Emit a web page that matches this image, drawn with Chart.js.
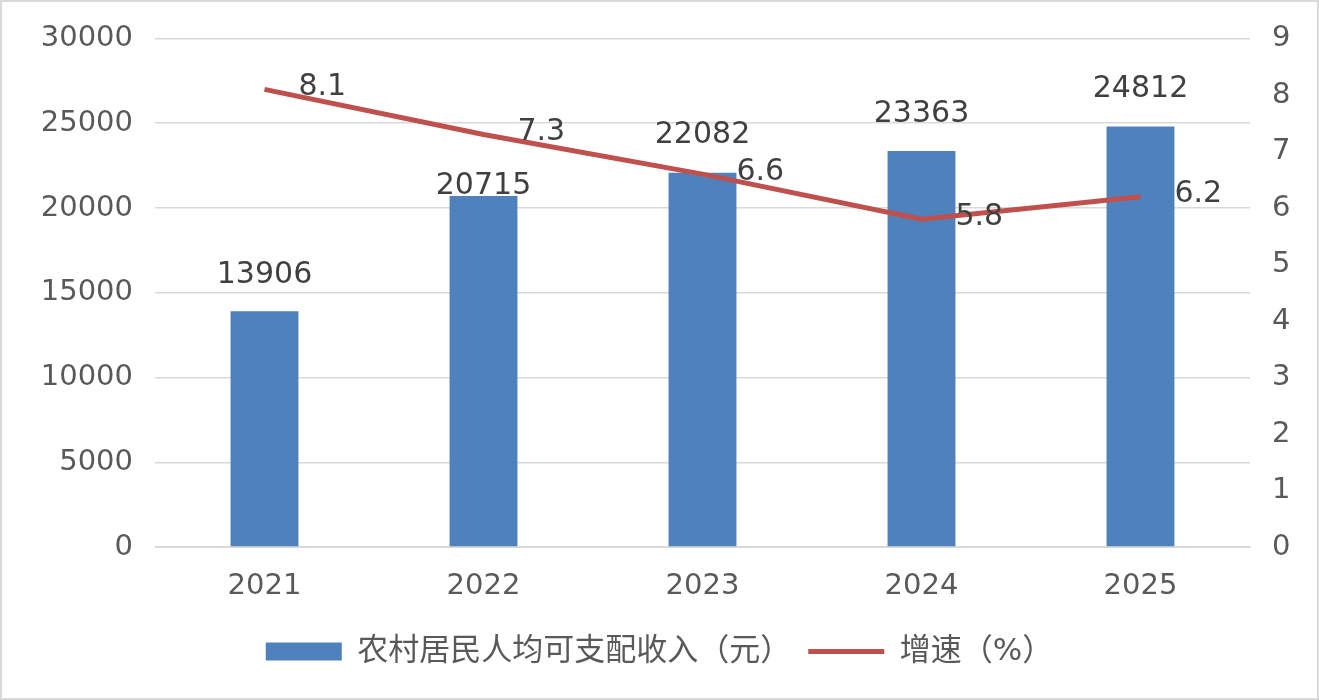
<!DOCTYPE html>
<html>
<head>
<meta charset="utf-8">
<script src="https://cdn.jsdelivr.net/npm/chart.js@4.4.1/dist/chart.umd.min.js"></script>
<style>
    html, body { margin: 0; padding: 0; background: #fff; }
    #wrap {
        width: 1319px; height: 700px; box-sizing: border-box;
        border: 2px solid #d9d9d9; position: relative;
    }
</style>
</head>
<body>
<div id="wrap"><canvas id="incomeChart"></canvas></div>
<script>
// Chart data
const years = ['2021', '2022', '2023', '2024', '2025'];
const incomeValues = [13906, 20715, 22082, 23363, 24812];
const growthValues = [8.1, 7.3, 6.6, 5.8, 6.2];
const incomeLabel = '农村居民人均可支配收入（元）';
const growthLabel = '增速（%）';

const textColor = '#595959';
const fontFamily = '"DejaVu Sans", "Noto Sans CJK SC", sans-serif';

// Draw value labels for bars (above) and line points (to the right)
const valueLabels = {
    id: 'valueLabels',
    afterDatasetsDraw(chart, args, opts) {
        const ctx = chart.ctx;
        ctx.save();
        ctx.font = '30px ' + fontFamily;
        ctx.fillStyle = '#404040';
        ctx.textBaseline = 'middle';

        const barMeta = chart.getDatasetMeta(0);
        ctx.textAlign = 'center';
        barMeta.data.forEach((bar, i) => {
            const lift = (opts.barLift && opts.barLift[i] != null) ? opts.barLift[i] : 36;
            ctx.fillText(String(incomeValues[i]), bar.x, bar.y - lift);
        });

        const lineMeta = chart.getDatasetMeta(1);
        ctx.textAlign = 'left';
        lineMeta.data.forEach((pt, i) => {
            ctx.fillText(growthValues[i].toFixed(1), pt.x + 34, pt.y - 2);
        });
        ctx.restore();
    }
};

new Chart(document.getElementById('incomeChart'), {
    type: 'bar',
    data: {
        labels: years,
        datasets: [
            {
                type: 'bar',
                label: incomeLabel,
                data: incomeValues,
                backgroundColor: '#4f81bd',
                barPercentage: 0.31,
                categoryPercentage: 1,
                yAxisID: 'y',
                pointStyle: 'rect',
                order: 2
            },
            {
                type: 'line',
                label: growthLabel,
                data: growthValues,
                borderColor: '#c0504d',
                backgroundColor: '#c0504d',
                borderWidth: 5,
                pointRadius: 0,
                tension: 0,
                yAxisID: 'y1',
                pointStyle: 'line',
                order: 1
            }
        ]
    },
    options: {
        responsive: true,
        maintainAspectRatio: false,
        animation: false,
        layout: { padding: { top: 34, left: 0, right: 0, bottom: 21 } },
        plugins: {
            tooltip: { enabled: false },
            valueLabels: { barLift: [36, 10, 38, 37, 37] },
            legend: {
                position: 'bottom',
                labels: {
                    usePointStyle: true,
                    pointStyleWidth: 76,
                    boxHeight: 18,
                    color: textColor,
                    padding: 17,
                    font: { family: fontFamily, size: 31 },
                    sort: (a, b) => a.datasetIndex - b.datasetIndex
                }
            }
        },
        scales: {
            x: {
                grid: { display: false },
                border: { color: '#d9d9d9' },
                ticks: { color: textColor, padding: 14, font: { family: fontFamily, size: 29 } },
                afterFit(scale) { scale.height = 72; }
            },
            y: {
                position: 'left',
                min: 0,
                max: 30000,
                ticks: {
                    stepSize: 5000, color: textColor, padding: 22,
                    font: { family: fontFamily, size: 29, lineHeight: 1 },
                    callback: v => String(v)
                },
                grid: { color: '#d9d9d9', lineWidth: 1.5, drawTicks: false },
                border: { display: false },
                afterFit(scale) { scale.width = 153; }
            },
            y1: {
                position: 'right',
                min: 0,
                max: 9,
                ticks: {
                    stepSize: 1, color: textColor, padding: 14,
                    font: { family: fontFamily, size: 29, lineHeight: 1 }
                },
                grid: { display: false },
                border: { display: false },
                afterFit(scale) { scale.width = 67; }
            }
        }
    },
    plugins: [valueLabels]
});
</script>
</body>
</html>
